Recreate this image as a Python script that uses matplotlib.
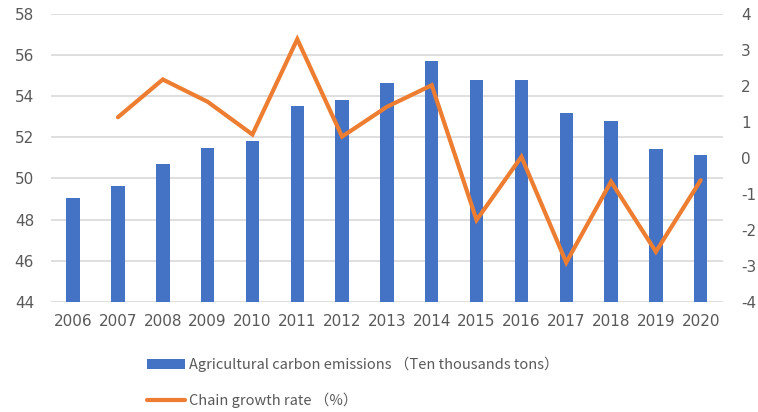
import matplotlib
matplotlib.use("Agg")
import matplotlib.pyplot as plt
import numpy as np

plt.rcParams['font.family'] = ['Noto Sans CJK SC', 'DejaVu Sans']
plt.rcParams['axes.unicode_minus'] = False

years = ['2006', '2007', '2008', '2009', '2010', '2011', '2012', '2013',
         '2014', '2015', '2016', '2017', '2018', '2019', '2020']
emissions = [49.05, 49.62, 50.70, 51.49, 51.82, 53.51, 53.83, 54.63,
             55.70, 54.77, 54.77, 53.17, 52.79, 51.44, 51.12]
growth = [np.nan, 1.13, 2.18, 1.56, 0.65, 3.30, 0.59, 1.42,
          2.02, -1.73, 0.03, -2.91, -0.66, -2.61, -0.62]

bar_label = 'Agricultural carbon emissions （Ten thousands tons）'
line_label = 'Chain growth rate （%）'

fig = plt.figure(figsize=(7.58, 4.12), dpi=100)
ax = fig.add_axes([0.0669, 0.2677, 0.8871, 0.6983])
ax2 = ax.twinx()

x = np.arange(len(years))
bars = ax.bar(x, emissions, width=0.3, color='#4472C4', zorder=3, label=bar_label)
ax.set_ylim(44, 58)
ax.set_yticks(np.arange(44, 59, 2))
ax.set_xlim(-0.5, len(years) - 0.5)
ax.set_xticks(x)
ax.set_xticklabels(years)
ax.grid(axis='y', color='#D9D9D9', linewidth=1.2, zorder=0)
ax.set_axisbelow(True)

line, = ax2.plot(x, growth, color='#ED7D31', linewidth=3, solid_capstyle='round',
                 solid_joinstyle='miter', zorder=4, label=line_label)
ax2.set_ylim(-4, 4)
ax2.set_yticks(np.arange(-4, 5, 1))

for a in (ax, ax2):
    for s in a.spines.values():
        s.set_visible(False)
    a.tick_params(length=0, labelsize=11, colors='#595959')
    for lab in a.get_xticklabels() + a.get_yticklabels():
        lab.set_family('DejaVu Sans')
ax.tick_params(axis='y', pad=12)
ax.tick_params(axis='x', pad=9)
ax2.tick_params(axis='y', pad=13)

leg = fig.legend([bars, line], [bar_label, line_label], loc='upper left',
                 bbox_to_anchor=(0.194, 0.135), frameon=False, fontsize=10.5,
                 handlelength=2.6, handletextpad=0.3, labelspacing=1.45,
                 borderaxespad=0, borderpad=0)
for t in leg.get_texts():
    t.set_color('#595959')

fig.savefig('out.png', dpi=100)
